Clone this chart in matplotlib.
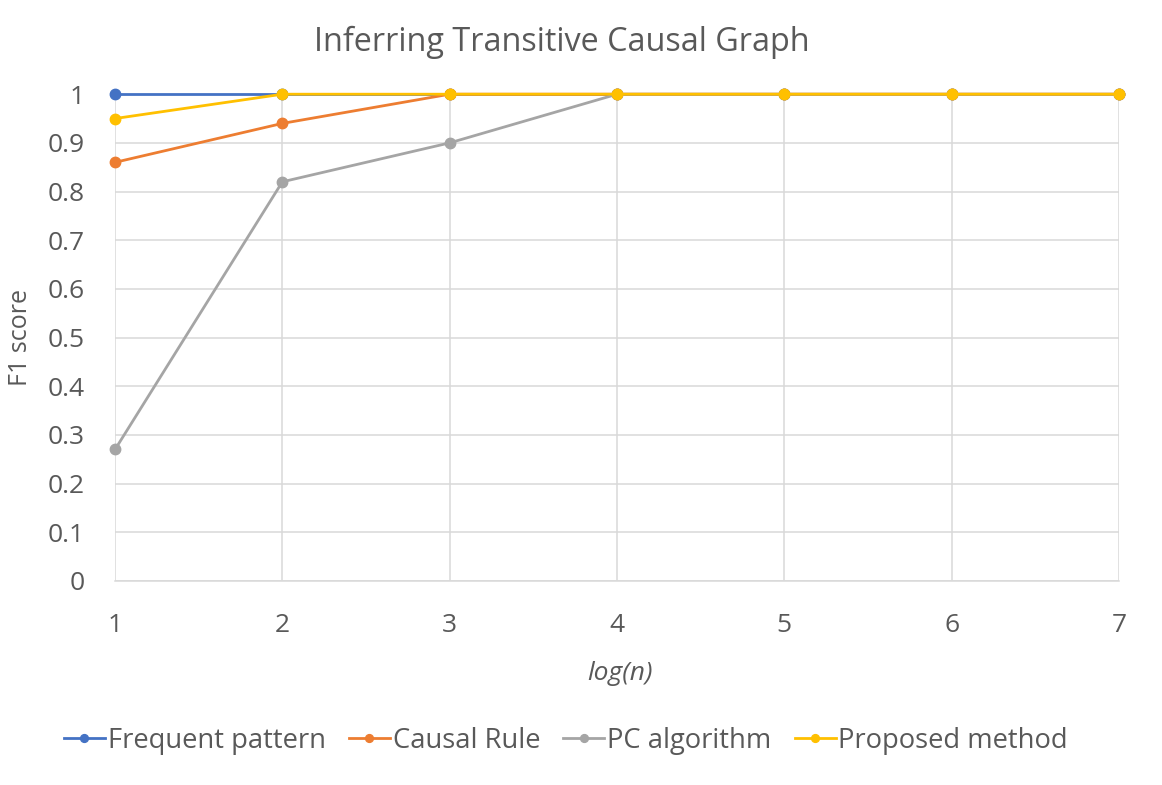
import matplotlib.pyplot as plt
import numpy as np

plt.rcParams["font.family"] = ["Open Sans", "DejaVu Sans"]

x = np.asarray([1, 2, 3, 4, 5, 6, 7])
frequent = np.asarray([1, 1, 1, 1, 1, 1, 1])
causal = np.asarray([0.86, 0.94, 1, 1, 1, 1, 1])
pc = np.asarray([0.27, 0.82, 0.9, 1, 1, 1, 1])
proposed = np.asarray([0.95, 1, 1, 1, 1, 1, 1])

series = [
    ("Frequent pattern", frequent, "#4472C4"),
    ("Causal Rule", causal, "#ED7D31"),
    ("PC algorithm", pc, "#A5A5A5"),
    ("Proposed method", proposed, "#FFC000"),
]
text_col = "#595959"

fig = plt.figure(figsize=(11.62, 7.85), dpi=100)
ax = fig.add_axes([0.099, 0.26, 0.864, 0.62])

for name, vals, col in series:
    ax.plot(x, vals, color=col, lw=2, marker="o", ms=7.5, label=name,
            clip_on=False, zorder=3)

ax.set_xlim(1, 7)
ax.set_ylim(0, 1)
ax.set_yticks(np.arange(0, 1.01, 0.1))
ax.set_yticklabels(["0", "0.1", "0.2", "0.3", "0.4", "0.5", "0.6", "0.7", "0.8", "0.9", "1"])
ax.set_xticks(x)
ax.grid(True, color="#D9D9D9", lw=1.1)
ax.set_axisbelow(True)
for s in ["top", "right", "left"]:
    ax.spines[s].set_visible(False)
ax.spines["bottom"].set_color("#D9D9D9")
ax.spines["bottom"].set_linewidth(1.1)
ax.tick_params(length=0, labelsize=19, labelcolor=text_col)
ax.tick_params(axis="y", pad=22)
ax.tick_params(axis="x", pad=23)

fig.text(0.5336, 1 - 674 / 785, "log(n)", fontsize=19, color=text_col,
         style="italic", ha="center", va="center")
fig.text(0.018, 1 - 338 / 785, "F1 score", fontsize=18, color=text_col,
         rotation=90, ha="center", va="center")
fig.text(0.4836, 1 - 42 / 785, "Inferring Transitive Causal Graph", fontsize=23.3,
         color=text_col, ha="center", va="center")

fig.legend(loc="center", bbox_to_anchor=(0.487, 1 - 741 / 785), ncol=4, frameon=False,
           fontsize=19.7, labelcolor=text_col, handlelength=1.5, handletextpad=0.1,
           columnspacing=0.85, markerscale=0.75)

fig.savefig("out.png", dpi=100)
